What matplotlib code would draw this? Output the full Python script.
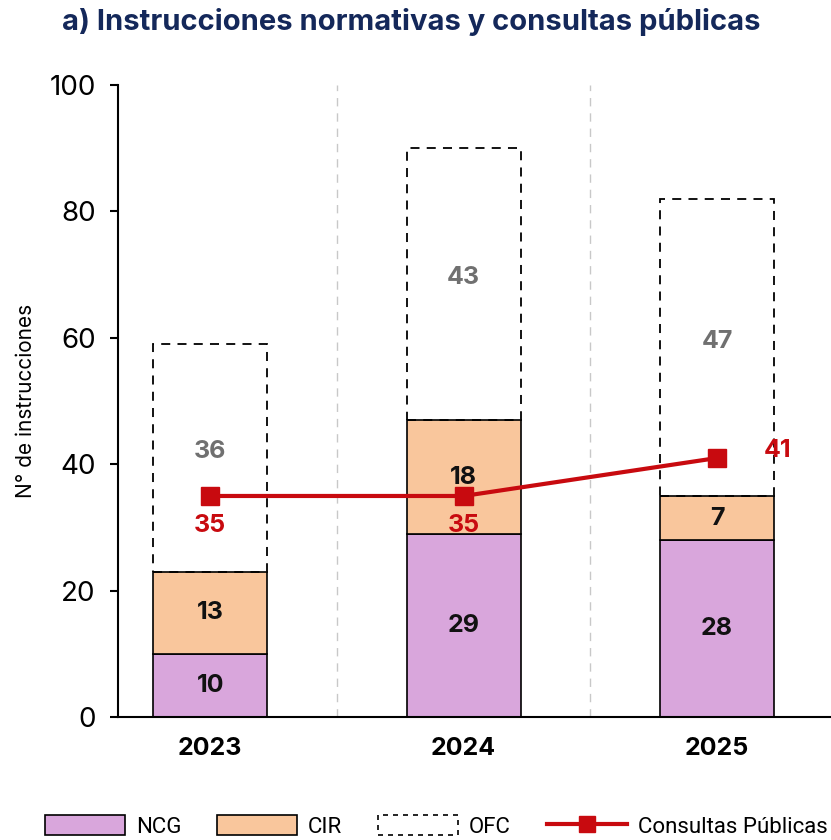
import matplotlib
matplotlib.use("Agg")
import matplotlib.pyplot as plt
import numpy as np
from matplotlib.patches import Patch
from matplotlib.lines import Line2D

# data
years = ["2023", "2024", "2025"]
ncg = [10, 29, 28]
cir = [13, 18, 7]
ofc = [36, 43, 47]
consultas = [35, 35, 41]

C_NCG = "#d9a6dc"
C_CIR = "#f9c69c"
C_RED = "#c80a0f"
C_TITLE = "#14285a"

plt.rcParams["font.family"] = ["Inter", "DejaVu Sans"]

fig = plt.figure(figsize=(8.31, 8.40), dpi=100)
ax = fig.add_axes([0.142, 0.146, 0.858, 0.753])

x = np.arange(len(years))
w = 0.45
ncg = np.array(ncg)
cir = np.array(cir)
ofc = np.array(ofc)

ax.bar(x, ncg, w, color=C_NCG, edgecolor="black", linewidth=1.2, zorder=2)
ax.bar(x, cir, w, bottom=ncg, color=C_CIR, edgecolor="black",
       linewidth=1.2, zorder=2)
ax.bar(x, ofc, w, bottom=ncg + cir, facecolor="none", edgecolor="black",
       linewidth=1.3, linestyle=(0, (5, 4)), zorder=2)

# separators between years
for xs in [0.5, 1.5]:
    ax.axvline(xs, color="#c8c8c8", linestyle=(0, (6, 5)), linewidth=1.0,
               zorder=1)

for i in range(len(years)):
    ax.text(x[i], ncg[i] / 2, str(ncg[i]), ha="center", va="center",
            fontsize=18, fontweight="bold", color="#111111", zorder=4)
    ax.text(x[i], ncg[i] + cir[i] / 2, str(cir[i]), ha="center",
            va="center", fontsize=18, fontweight="bold", color="#111111",
            zorder=4)
    ax.text(x[i], ncg[i] + cir[i] + ofc[i] / 2 + 1, str(ofc[i]),
            ha="center", va="center", fontsize=18, fontweight="bold",
            color="#707070", zorder=4)

ax.plot(x, consultas, color=C_RED, linewidth=3, marker="s", markersize=13,
        zorder=5)
for i in range(2):
    ax.text(x[i], consultas[i] - 4.6, str(consultas[i]), ha="center",
            va="center", fontsize=18, fontweight="bold", color=C_RED,
            zorder=6)
ax.text(x[2] + 0.24, consultas[2] + 1.2, str(consultas[2]), ha="center",
        va="center", fontsize=18, fontweight="bold", color=C_RED, zorder=6)

ax.set_xlim(-0.364, 2.45)
ax.set_ylim(0, 100)
ax.set_yticks([0, 20, 40, 60, 80, 100])
ax.tick_params(axis="y", labelsize=20, length=6, width=1.5, pad=10)
ax.set_xticks(x)
ax.set_xticklabels(years, fontsize=18, fontweight="bold")
ax.tick_params(axis="x", length=0, pad=14)
ax.set_ylabel("N° de instrucciones", fontsize=15, labelpad=10)

for s in ["top", "right"]:
    ax.spines[s].set_visible(False)
ax.spines["left"].set_linewidth(1.5)
ax.spines["bottom"].set_linewidth(1.5)

fig.suptitle("a) Instrucciones normativas y consultas públicas", x=0.495,
             y=0.99, fontsize=21, fontweight="bold", color=C_TITLE)

handles = [
    Patch(facecolor=C_NCG, edgecolor="black", linewidth=1.2, label="NCG"),
    Patch(facecolor=C_CIR, edgecolor="black", linewidth=1.2, label="CIR"),
    Patch(facecolor="none", edgecolor="black", linewidth=1.2,
          linestyle=(0, (3, 3)), label="OFC"),
    Line2D([0], [0], color=C_RED, linewidth=3, marker="s", markersize=11,
           label="Consultas Públicas"),
]
fig.legend(handles=handles, loc="center", bbox_to_anchor=(0.525, 0.016),
           ncol=4, frameon=False, handlelength=3.6, handleheight=1.0,
           columnspacing=1.6, handletextpad=0.5,
           prop={"family": ["Roboto", "DejaVu Sans"], "size": 16})

fig.savefig("out.png", dpi=100)
